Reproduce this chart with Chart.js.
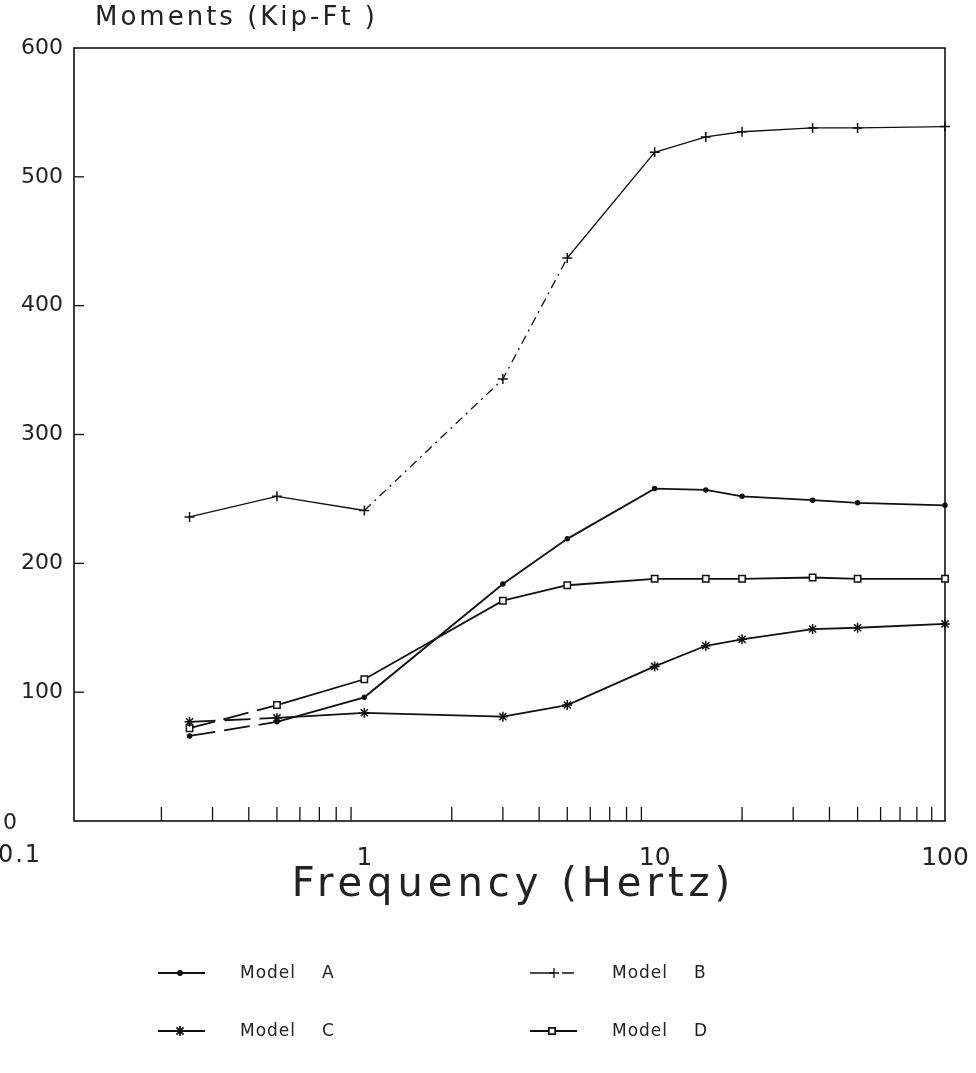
<!DOCTYPE html>
<html><head><meta charset="utf-8">
<script src="https://cdn.jsdelivr.net/npm/chart.js@4/dist/chart.umd.min.js"></script>
<style>html,body{margin:0;padding:0;background:#fff;}#wrap{width:976px;height:1073px;}</style>
</head><body><div id="wrap"><canvas id="c" width="976" height="1073"></canvas></div>
<script>
const frequencies = [0.25, 0.5, 1, 3, 5, 10, 15, 20, 35, 50, 100];
const modelA = [66, 77, 96, 184, 219, 258, 257, 252, 249, 247, 245];
const modelB = [236, 252, 241, 343, 437, 519, 531, 535, 538, 538, 539];
const modelC = [77, 80, 84, 81, 90, 120, 136, 141, 149, 150, 153];
const modelD = [72, 90, 110, 171, 183, 188, 188, 188, 189, 188, 188];
const seriesNames = ['Model A', 'Model B', 'Model C', 'Model D'];
const yTicks = [0, 100, 200, 300, 400, 500, 600];
const xMajorTicks = [0.1, 1, 10, 100];
const xTickLabels = ['0.1', '1', '10', '100'];
const yTitle = 'Moments (Kip-Ft )';
const xTitle = 'Frequency (Hertz)';

const INK = '#111';
const FONT = '"DejaVu Sans", sans-serif';
const pts = arr => frequencies.map((f, i) => ({x: f, y: arr[i]}));

const styles = [
  {pointStyle: 'circle', pointRadius: 2, borderWidth: 1.8, dashSeg: [0], dash: [26, 9]},
  {pointStyle: 'cross', pointRadius: 5, borderWidth: 1.3, dashSeg: [2, 3], dash: [9, 5, 2, 5]},
  {pointStyle: 'star', pointRadius: 5, borderWidth: 1.8, dashSeg: [0], dash: [26, 9]},
  {pointStyle: 'rect', pointRadius: 4.5, borderWidth: 1.8, dashSeg: [0], dash: [26, 9]}
];
const series = [modelA, modelB, modelC, modelD];

const datasets = series.map((arr, k) => ({
  label: seriesNames[k],
  data: pts(arr),
  borderColor: INK,
  backgroundColor: '#fff',
  borderWidth: styles[k].borderWidth,
  pointStyle: styles[k].pointStyle,
  pointRadius: styles[k].pointRadius,
  pointBorderColor: INK,
  pointBackgroundColor: k === 0 ? INK : '#fff',
  pointBorderWidth: 1.5,
  tension: 0,
  fill: false,
  clip: false,
  segment: {
    borderDash: c => styles[k].dashSeg.includes(c.p0DataIndex) ? styles[k].dash : undefined
  }
}));

const decorPlugin = {
  id: 'decor',
  beforeDatasetsDraw(chart) {
    const {ctx, chartArea: a, scales: {x, y}} = chart;
    ctx.save();
    ctx.strokeStyle = INK;
    ctx.lineWidth = 1.6;
    ctx.strokeRect(a.left, a.top, a.right - a.left, a.bottom - a.top);
    ctx.lineWidth = 1.3;
    [0.1, 1, 10].forEach(d => {
      for (let m = 2; m <= 9; m++) {
        const px = x.getPixelForValue(d * m);
        ctx.beginPath(); ctx.moveTo(px, a.bottom); ctx.lineTo(px, a.bottom - 14); ctx.stroke();
      }
    });
    yTicks.slice(1, -1).forEach(v => {
      const py = y.getPixelForValue(v);
      ctx.beginPath(); ctx.moveTo(a.left, py); ctx.lineTo(a.left + 10, py); ctx.stroke();
    });
    ctx.restore();
  },
  afterDraw(chart) {
    const {ctx, chartArea: a, scales: {x, y}} = chart;
    ctx.save();
    ctx.fillStyle = '#222';
    ctx.textBaseline = 'middle';
    ctx.font = '26px ' + FONT;
    ctx.letterSpacing = '3px';
    ctx.textAlign = 'left';
    ctx.fillText(yTitle, 95, 18);
    ctx.font = '22px ' + FONT;
    ctx.letterSpacing = '2px';
    ctx.textAlign = 'center';
    ctx.fillText(String(yTicks[0]), 11, y.getPixelForValue(yTicks[0]) + 2);
    ctx.font = '24px ' + FONT;
    ctx.fillText(xTickLabels[0], 20, a.bottom + 35);
    ctx.font = '40px ' + FONT;
    ctx.letterSpacing = '5px';
    ctx.fillText(xTitle, (a.left + a.right) / 2 + 4, 886);
    const cols = [158, 530], rows = [973, 1031];
    ctx.font = '17px ' + FONT;
    ctx.letterSpacing = '1px';
    chart.data.datasets.forEach((ds, k) => {
      const lx = cols[k % 2], ly = rows[Math.floor(k / 2)];
      ctx.strokeStyle = INK;
      ctx.lineWidth = ds.borderWidth;
      ctx.setLineDash(k === 1 ? [24, 8, 12, 100] : []);
      ctx.beginPath(); ctx.moveTo(lx, ly); ctx.lineTo(lx + 47, ly); ctx.stroke();
      ctx.setLineDash([]);
      ctx.fillStyle = ds.pointBackgroundColor;
      Chart.helpers.drawPoint(ctx, {pointStyle: ds.pointStyle, radius: ds.pointRadius, rotation: 0, borderWidth: 1.5}, lx + (k === 1 ? 24 : 22), ly);
      ctx.fillStyle = '#222';
      ctx.textAlign = 'left';
      const [w, letter] = ds.label.split(' ');
      ctx.fillText(w, lx + 82, ly + 1);
      ctx.fillText(letter, lx + 82 + 82, ly + 1);
    });
    ctx.restore();
  }
};

new Chart(document.getElementById('c'), {
  type: 'line',
  data: {datasets},
  options: {
    responsive: false,
    animation: false,
    events: [],
    layout: {padding: {left: 0, right: 31, top: 48, bottom: 0}},
    plugins: {legend: {display: false}, tooltip: {enabled: false}},
    scales: {
      x: {
        type: 'logarithmic', min: 0.1, max: 100,
        afterFit(s) { s.height = 252; s.paddingLeft = 0; s.paddingRight = 0; },
        afterBuildTicks(s) { s.ticks = xMajorTicks.map(v => ({value: v})); },
        grid: {display: false, drawTicks: false},
        border: {display: false},
        ticks: {
          autoSkip: false, maxRotation: 0, padding: 22, color: '#222',
          font: {size: 25, family: FONT},
          callback: (v, i) => i === 0 ? '' : xTickLabels[i]
        }
      },
      y: {
        min: 0, max: 600,
        afterFit(s) { s.width = 74; s.paddingTop = 0; s.paddingBottom = 0; },
        afterBuildTicks(s) { s.ticks = yTicks.map(v => ({value: v})); },
        grid: {display: false, drawTicks: false},
        border: {display: false},
        ticks: {
          padding: 11, color: '#222',
          font: {size: 22, family: FONT},
          callback: (v, i) => i === 0 ? '' : String(yTicks[i])
        }
      }
    }
  },
  plugins: [decorPlugin]
});
</script></body></html>
